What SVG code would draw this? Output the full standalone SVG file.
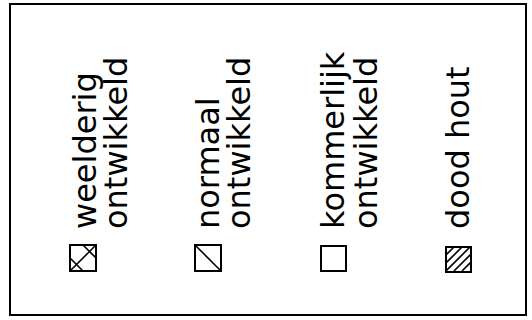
<svg xmlns="http://www.w3.org/2000/svg" width="532" height="320" viewBox="0 0 532 320">
<style>
.t{font-family:"DejaVu Sans",sans-serif;font-size:32px;fill:#000}
.b{fill:none;stroke:#000;stroke-width:2}
.h{stroke:#000;stroke-width:1.6;fill:none}
</style>
<defs>
<clipPath id="c4"><rect x="446" y="247" width="25" height="25"/></clipPath>
</defs>
<rect x="0" y="0" width="532" height="320" fill="#fff"/>
<rect x="10" y="4" width="516" height="311" class="b"/>
<g id="weelderig">
<rect x="70" y="245" width="26" height="26" class="b"/>
<path class="h" d="M70 271 L96 245 M70 258 L83 271 M83 245 L96 258"/>
<text class="t" transform="translate(96,229) rotate(-90)">weelderig</text>
<text class="t" transform="translate(127,229) rotate(-90)">ontwikkeld</text>
</g>
<g id="normaal">
<rect x="195" y="245" width="26" height="26" class="b"/>
<path class="h" d="M195 245 L221 271"/>
<text class="t" transform="translate(219,229) rotate(-90)">normaal</text>
<text class="t" transform="translate(250,229) rotate(-90)">ontwikkeld</text>
</g>
<g id="kommerlijk">
<rect x="321" y="246" width="25" height="25" class="b"/>
<text class="t" transform="translate(344,229) rotate(-90)">kommerlijk</text>
<text class="t" transform="translate(377,229) rotate(-90)">ontwikkeld</text>
</g>
<g id="dood-hout">
<g clip-path="url(#c4)">
<path class="h" d="M446 255 L454 247 M446 263 L462 247 M446 271 L470 247 M454 271 L471 254 M462 271 L471 262"/>
</g>
<rect x="446" y="247" width="25" height="25" class="b"/>
<text class="t" transform="translate(469,229) rotate(-90)">dood hout</text>
</g>
<g id="connectors"></g>
</svg>
